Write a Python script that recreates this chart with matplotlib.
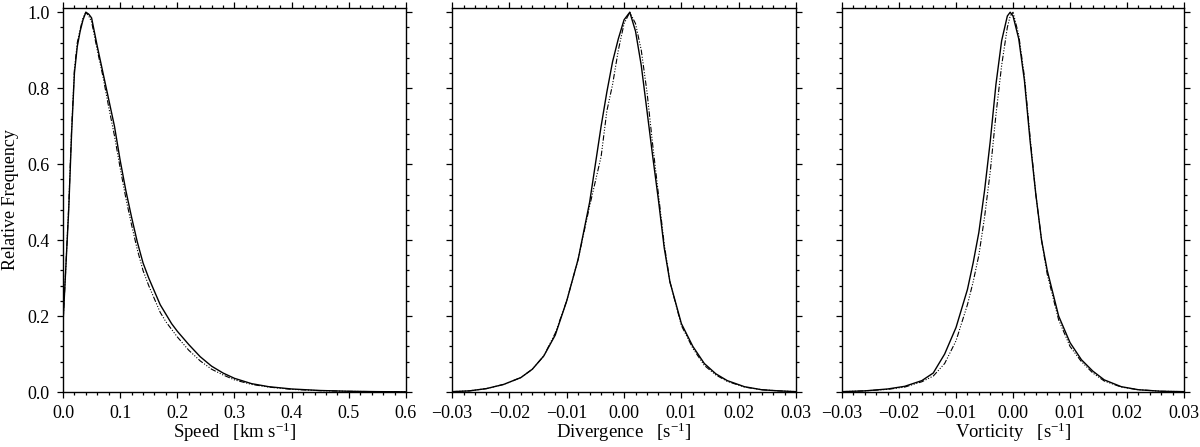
import matplotlib
matplotlib.use("Agg")
import matplotlib.pyplot as plt
from matplotlib.ticker import MultipleLocator, FuncFormatter

plt.rcParams['font.family'] = ['Liberation Serif', 'DejaVu Serif']
plt.rcParams['mathtext.fontset'] = 'custom'
plt.rcParams['mathtext.rm'] = 'Liberation Serif'
plt.rcParams['mathtext.it'] = 'Liberation Serif:italic'

# speed histogram
speed_x = [0, 0.005, 0.01, 0.015, 0.02, 0.025, 0.03, 0.035, 0.04, 0.045, 0.05, 0.06, 0.07, 0.08,
           0.09, 0.10, 0.11, 0.12, 0.13, 0.14, 0.15, 0.16, 0.17, 0.18, 0.19, 0.20, 0.22, 0.24,
           0.26, 0.28, 0.30, 0.33, 0.36, 0.40, 0.45, 0.50, 0.55, 0.60]
speed_a = [0.18, 0.33, 0.48, 0.68, 0.84, 0.91, 0.95, 0.98, 1.0, 0.995, 0.985, 0.91, 0.84, 0.77,
           0.70, 0.61, 0.53, 0.46, 0.395, 0.34, 0.30, 0.265, 0.23, 0.205, 0.18, 0.16, 0.125, 0.093,
           0.068, 0.05, 0.036, 0.022, 0.014, 0.008, 0.004, 0.002, 0.001, 0.0005]
speed_b = [0.18, 0.33, 0.49, 0.69, 0.85, 0.92, 0.955, 0.985, 1.0, 0.99, 0.975, 0.90, 0.83, 0.75,
           0.675, 0.59, 0.51, 0.44, 0.375, 0.32, 0.28, 0.245, 0.21, 0.185, 0.165, 0.145, 0.11, 0.082,
           0.06, 0.045, 0.032, 0.02, 0.013, 0.007, 0.0035, 0.0018, 0.001, 0.0005]

# divergence histogram
div_x = [-0.03, -0.027, -0.024, -0.021, -0.018, -0.016, -0.014, -0.012, -0.010, -0.008, -0.006,
         -0.004, -0.003, -0.002, -0.001, 0.0, 0.001, 0.002, 0.003, 0.004, 0.005, 0.006, 0.007,
         0.008, 0.010, 0.012, 0.014, 0.016, 0.018, 0.021, 0.024, 0.027, 0.03]
div_a = [0.001, 0.003, 0.009, 0.02, 0.038, 0.06, 0.095, 0.15, 0.24, 0.35, 0.50,
         0.70, 0.79, 0.87, 0.93, 0.98, 1.0, 0.95, 0.86, 0.74, 0.62, 0.505, 0.38,
         0.29, 0.18, 0.12, 0.075, 0.048, 0.03, 0.014, 0.006, 0.003, 0.001]
div_b = [0.001, 0.003, 0.009, 0.02, 0.038, 0.06, 0.095, 0.155, 0.24, 0.35, 0.49,
         0.62, 0.74, 0.81, 0.90, 0.97, 1.0, 0.97, 0.90, 0.79, 0.65, 0.52, 0.39,
         0.29, 0.175, 0.115, 0.07, 0.045, 0.028, 0.013, 0.006, 0.003, 0.001]

# vorticity histogram
vor_x = [-0.03, -0.026, -0.022, -0.019, -0.016, -0.014, -0.012, -0.010, -0.008, -0.007, -0.006,
         -0.005, -0.004, -0.003, -0.002, -0.001, -0.0005, 0.0, 0.001, 0.002, 0.003, 0.004, 0.005,
         0.006, 0.008, 0.010, 0.012, 0.014, 0.016, 0.019, 0.022, 0.026, 0.03]
vor_a = [0.001, 0.003, 0.008, 0.015, 0.03, 0.05, 0.10, 0.17, 0.27, 0.34, 0.42,
         0.53, 0.66, 0.81, 0.925, 0.99, 1.0, 0.99, 0.93, 0.82, 0.66, 0.52, 0.40,
         0.32, 0.20, 0.13, 0.085, 0.055, 0.032, 0.014, 0.006, 0.002, 0.001]
vor_b = [0.001, 0.003, 0.007, 0.013, 0.027, 0.042, 0.075, 0.135, 0.23, 0.29, 0.36,
         0.46, 0.58, 0.73, 0.86, 0.96, 0.99, 1.0, 0.94, 0.83, 0.67, 0.52, 0.40,
         0.31, 0.19, 0.12, 0.08, 0.05, 0.029, 0.013, 0.006, 0.002, 0.001]

panels = [
    (speed_x, speed_a, speed_b, (0, 0.6), 0.1, 0.02, '%.1f', r'Speed   [km s$^{-1}$]'),
    (div_x, div_a, div_b, (-0.03, 0.03), 0.01, 0.002, '%.2f', r'Divergence   [s$^{-1}$]'),
    (vor_x, vor_a, vor_b, (-0.03, 0.03), 0.01, 0.002, '%.2f', r'Vorticity   [s$^{-1}$]'),
]
lefts = [0.0525, 0.3767, 0.7017]
widths = [0.2858, 0.2867, 0.285]


def fmt_func(f):
    def _f(v, pos):
        s = f % v
        if float(s) == 0:
            s = s.lstrip('-')
        return s.replace('-', '\u2212')
    return FuncFormatter(_f)


fig = plt.figure(figsize=(12, 4.47), dpi=100)
dashdot3 = (0, (5, 1.5, 1, 1.5, 1, 1.5, 1, 1.5))

for i, (x, a, b, xl, maj, mnr, fmt, lab) in enumerate(panels):
    ax = fig.add_axes([lefts[i], 0.123, widths[i], 0.859])
    ax.plot(x, a, color='k', lw=1.0)
    ax.plot(x, b, color='k', lw=0.8, linestyle=dashdot3)
    ax.set_xlim(*xl)
    ax.set_ylim(0, 1.011)
    ax.xaxis.set_major_locator(MultipleLocator(maj))
    ax.xaxis.set_minor_locator(MultipleLocator(mnr))
    ax.xaxis.set_major_formatter(fmt_func(fmt))
    ax.yaxis.set_major_locator(MultipleLocator(0.2))
    ax.yaxis.set_minor_locator(MultipleLocator(0.04))
    ax.yaxis.set_major_formatter(fmt_func('%.1f'))
    ax.tick_params(which='both', direction='out', top=True, right=True,
                   labelsize=13, width=0.9, colors='k')
    ax.tick_params(which='major', length=4.5, pad=5)
    ax.tick_params(which='minor', length=2.5)
    if i > 0:
        ax.tick_params(labelleft=False)
    else:
        ax.set_ylabel('Relative Frequency', fontsize=13)
        ax.yaxis.set_label_coords(-0.128, 0.5)
    ax.set_xlabel(lab, fontsize=13.5)
    ax.xaxis.set_label_coords(0.5, -0.075)
    ax.xaxis.label.set_va('top')
    for s in ax.spines.values():
        s.set_linewidth(1.0)

fig.savefig('out.png', dpi=100)
